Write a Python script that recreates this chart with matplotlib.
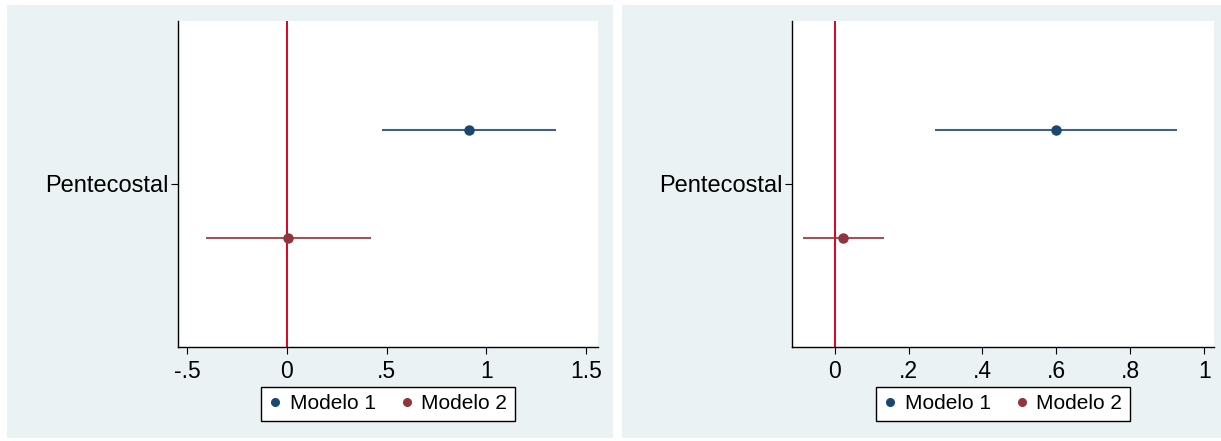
import matplotlib
matplotlib.use("Agg")
import matplotlib.pyplot as plt
from matplotlib.patches import Rectangle
from matplotlib.lines import Line2D

plt.rcParams["font.family"] = ["Liberation Sans", "DejaVu Sans"]

BG_CLR   = "#eaf2f3"
NAVY     = "#1a476f"
MAROON   = "#90353b"
REF_CLR  = "#e2001f"

# coefficient estimates
models   = ["Modelo 1", "Modelo 2"]
row_pos  = [1, -1]
category = "Pentecostal"

left_coef = [0.911, 0.008]
left_lo   = [0.479, -0.406]
left_hi   = [1.350, 0.424]
left_ticks  = [-0.5, 0, 0.5, 1, 1.5]
left_labels = ["-.5", "0", ".5", "1", "1.5"]

right_coef = [0.598, 0.022]
right_lo   = [0.272, -0.086]
right_hi   = [0.925, 0.133]
right_ticks  = [0, 0.2, 0.4, 0.6, 0.8, 1]
right_labels = ["0", ".2", ".4", ".6", ".8", "1"]

W, H = 1221, 441
fig = plt.figure(figsize=(W / 100, H / 100), dpi=100, facecolor="white")


def px_rect(x0, y0, x1, y1):
    """pixel box (top-left origin) -> figure fraction rect"""
    return [x0 / W, 1 - y1 / H, (x1 - x0) / W, (y1 - y0) / H]


for x0, x1 in [(7, 613), (622, 1221)]:
    fig.patches.append(Rectangle((x0 / W, 1 - 438 / H), (x1 - x0) / W, 433 / H,
                                 transform=fig.transFigure, facecolor=BG_CLR,
                                 edgecolor="none", zorder=-10))


def coef_panel(rect, coef, lo, hi, xlim, ticks, labels):
    ax = fig.add_axes(px_rect(*rect))
    ax.set_facecolor("white")
    colors = [NAVY, MAROON]
    ax.axvline(0, color=REF_CLR, linewidth=1.4, zorder=2)
    for c, l, h, y, clr in zip(coef, lo, hi, row_pos, colors):
        ax.plot([l, h], [y, y], color=clr, linewidth=1.5, alpha=0.85,
                solid_capstyle="butt", zorder=3)
        ax.plot([c], [y], "o", color=clr, markersize=6.5, zorder=4)
    ax.set_xlim(*xlim)
    ax.set_ylim(-3, 3)
    ax.set_xticks(ticks)
    ax.set_xticklabels(labels)
    ax.set_yticks([0])
    ax.set_yticklabels([category])
    for s in ["top", "right"]:
        ax.spines[s].set_visible(False)
    for s in ["left", "bottom"]:
        ax.spines[s].set_linewidth(1.0)
        ax.spines[s].set_color("black")
    ax.tick_params(axis="both", length=5, width=0.8, pad=4, labelsize=16.5)
    ax.tick_params(axis="y", pad=2, labelsize=17)

    handles = [Line2D([], [], marker="o", linestyle="none", color=clr,
                      markersize=5.5) for clr in colors]
    cx = (rect[0] + rect[2]) / 2 / W
    leg = fig.legend(handles, models, loc="upper center",
                     bbox_to_anchor=(cx, 1 - 387 / H), ncol=2, fontsize=15,
                     frameon=True, fancybox=False, handlelength=0.6,
                     handletextpad=0.4, columnspacing=1.2, borderpad=0.35,
                     borderaxespad=0, edgecolor="black", framealpha=1)
    leg.get_frame().set_linewidth(1.0)
    return ax


coef_panel((178, 21, 598, 347), left_coef, left_lo, left_hi,
           (-0.545, 1.56), left_ticks, left_labels)
coef_panel((792, 21, 1214, 347), right_coef, right_lo, right_hi,
           (-0.115, 1.026), right_ticks, right_labels)

fig.savefig("out.png", dpi=100, facecolor="white")
